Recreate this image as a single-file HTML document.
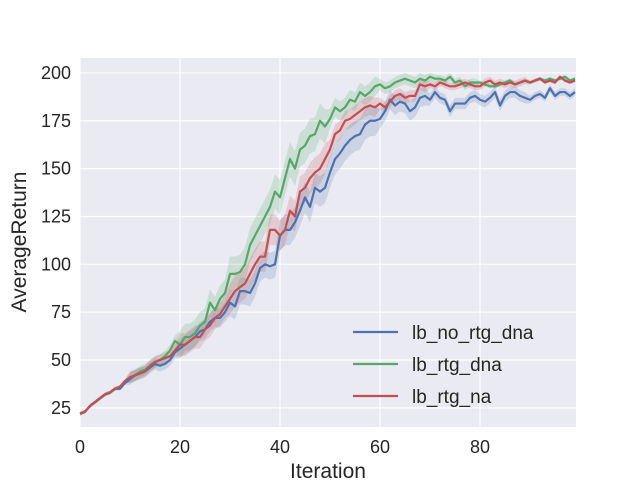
<!DOCTYPE html>
<html><head><meta charset="utf-8"><style>
body{margin:0;background:#fff}
svg text{font-family:"Liberation Sans","DejaVu Sans",sans-serif;fill:#262626}
</style></head><body>
<svg id="chart" width="640" height="480" xmlns="http://www.w3.org/2000/svg">
<rect x="80" y="58" width="496" height="369" fill="#eaeaf2"/>
<g id="grid"></g>
<g id="bands"></g>
<g id="lines"></g>
<g id="ticks"></g>
<text x="328" y="480" dy="-2" text-anchor="middle" font-size="21">Iteration</text>
<text transform="translate(26,242) rotate(-90)" text-anchor="middle" font-size="21">AverageReturn</text>
<g id="legend"></g>
</svg>
<script>
const xTicks=[0,20,40,60,80];
const yTicks=[25,50,75,100,125,150,175,200];
const seriesNames=["lb_no_rtg_dna","lb_rtg_dna","lb_rtg_na"];
const blue=[22,23,26,28,30,32,33,35,35,38,40,42,43,44,46,48,47,48,50,54,56,58,60,62,65,66,70,72,72,75,80,78,86,86,85,90,98,100,99,100,115,118,118,122,128,135,130,140,138,140,148,155,158,162,165,167,168,173,175,175,176,180,186,183,185,184,180,182,187,188,186,190,187,186,180,184,184,184,187,188,186,185,187,190,183,188,190,190,188,187,186,188,189,187,192,188,190,190,188,190];
const green=[22,23,26,28,30,32,33,35,36,39,41,42,44,45,47,49,50,52,55,60,58,62,62,64,68,70,80,76,82,85,95,95,96,100,110,115,120,125,130,138,135,145,155,150,160,162,167,168,175,172,176,182,180,182,186,185,190,188,190,193,194,192,193,195,196,197,196,195,197,196,198,197,197,196,198,195,196,193,195,195,195,194,193,193,194,195,196,194,195,196,195,196,197,196,197,196,197,198,196,197];
const red=[22,23,26,28,30,32,33,35,36,39,41,42,43,44,47,49,50,51,52,55,58,58,60,62,62,66,68,72,74,78,82,86,88,90,95,100,104,104,118,118,115,118,128,125,138,140,145,148,150,155,160,168,170,175,176,178,180,182,183,182,184,182,185,188,189,187,188,188,194,193,194,193,195,194,193,193,194,195,194,193,193,195,196,194,195,194,195,194,195,196,195,196,197,195,196,195,198,196,195,196];
const blueSpread=[1,3,5,7,8,8,5,3,3,2];
const greenSpread=[1,3,7,9,9,5,3,2,1,1];
const redSpread=[1,3,6,8,8,5,3,2,2,1];
const colors=["#4c72b0","#55a868","#c44e52"];
const NS="http://www.w3.org/2000/svg";
const X0=80,X1=576,Y0=427,Y1=58;
const xMin=0,xMax=99.2,yMin=15,yMax=207.8;
const sx=v=>X0+(v-xMin)/(xMax-xMin)*(X1-X0);
const sy=v=>Y0-(v-yMin)/(yMax-yMin)*(Y0-Y1);
function mk(t,a,p){const e=document.createElementNS(NS,t);for(const k in a)e.setAttribute(k,a[k]);p.appendChild(e);return e;}
const grid=document.getElementById('grid'),ticks=document.getElementById('ticks');
xTicks.forEach(t=>{const l=mk('line',{x1:sx(t),x2:sx(t),y1:Y1,y2:Y0,stroke:'#fff','stroke-width':1.2},grid);

const tx=mk('text',{x:sx(t),y:Y0+26,'text-anchor':'middle','font-size':18},ticks);tx.textContent=t;
});
yTicks.forEach(t=>{const l=mk('line',{x1:X0,x2:X1,y1:sy(t),y2:sy(t),stroke:'#fff','stroke-width':1.2},grid);

const tx=mk('text',{x:X0-9,y:sy(t)+6,'text-anchor':'end','font-size':18},ticks);tx.textContent=t;
});
const data=[blue,green,red],spreads=[blueSpread,greenSpread,redSpread];
const bands=document.getElementById('bands'),lines=document.getElementById('lines');
data.forEach((s,k)=>{
 const sp=spreads[k];
 let up=s.map((v,i)=>sx(i)+','+sy(v+sp[Math.floor(i/10)]));
 let dn=s.map((v,i)=>sx(i)+','+sy(v-sp[Math.floor(i/10)])).reverse();
 const b=mk('polygon',{points:up.concat(dn).join(' '),fill:colors[k],'fill-opacity':0.2},bands);
 
});
data.forEach((s,k)=>{
 const l=mk('polyline',{points:s.map((v,i)=>sx(i)+','+sy(v)).join(' '),fill:'none',stroke:colors[k],'stroke-width':2.2,'stroke-linejoin':'round'},lines);
 
});
const lg=document.getElementById('legend');
seriesNames.forEach((n,k)=>{
 const y=332+k*32;
 const g=mk('g',{},lg);
 
 mk('line',{x1:353,x2:398,y1:y,y2:y,stroke:colors[k],'stroke-width':2.2},g);
 const t=mk('text',{x:412,y:y+7,'font-size':19},g);t.textContent=n;
});
</script>
</body></html>
